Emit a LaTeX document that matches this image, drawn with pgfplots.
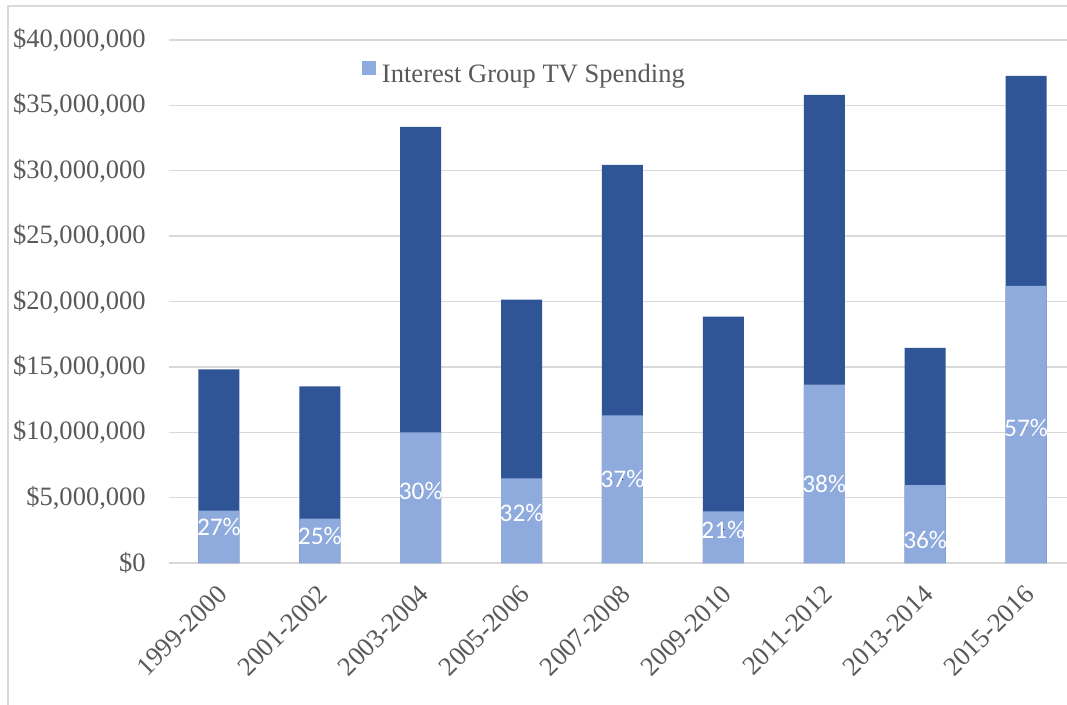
\documentclass[border=0pt]{standalone}
\usepackage{fontspec}
\setmainfont{Liberation Serif}
\newfontfamily\calibri{Carlito}
\usepackage{pgfplots}
\pgfplotsset{compat=1.18}
\definecolor{darkbar}{HTML}{2F5597}
\definecolor{lightbar}{HTML}{8FAADC}
\definecolor{txtgray}{HTML}{595959}
\definecolor{gridgray}{HTML}{D9D9D9}
\newlength{\px}\setlength{\px}{0.75pt}
\begin{document}
\begin{tikzpicture}
\useasboundingbox (0,0) rectangle (1067\px,704\px);
\clip (0,0) rectangle (1067\px,704\px);
\fill[white] (0,0) rectangle (1067\px,704\px);
\draw[gridgray, line width=1.5\px] (8\px,-2\px) -- (8\px,698\px) -- (1070\px,698\px);
\begin{axis}[
  at={(168.5\px,141\px)}, anchor=south west,
  scale only axis, width=908\px, height=523\px,
  xmin=-0.5, xmax=8.5, ymin=0, ymax=40,
  axis line style={draw=none},
  major tick length=0pt,
  ymajorgrids, grid style={gridgray, line width=1.5\px},
  ytick={0,5,...,40},
  yticklabels={{\$0},{\$5,000,000},{\$10,000,000},{\$15,000,000},{\$20,000,000},{\$25,000,000},{\$30,000,000},{\$35,000,000},{\$40,000,000}},
  xtick={0,...,8},
  xticklabels={1999-2000,2001-2002,2003-2004,2005-2006,2007-2008,2009-2010,2011-2012,2013-2014,2015-2016},
  tick label style={font=\fontsize{19.9}{24}\selectfont, text=txtgray},
  yticklabel style={anchor=east, inner sep=0pt, xshift=-22.5\px},
  xticklabel style={xshift=-3\px, yshift=-20\px, rotate=45, anchor=north east, inner sep=0pt},
  legend style={at={(0.2131,0.9143)}, anchor=south west, draw=none, fill=none,
    inner sep=0pt, outer sep=0pt, nodes={inner sep=0pt, text=txtgray},
    font=\fontsize{19.9}{24}\selectfont},
  legend image code/.code={\fill[lightbar] (0,0) rectangle (14\px,13.3\px);\path (0,0) -- (20\px,0);},
]
% total spending (dark segment top)
\addplot[ybar, bar width=41\px, bar shift=0pt, fill=darkbar, draw=none, forget plot]
  coordinates {(0,14.8) (1,13.5) (2,33.35) (3,20.15) (4,30.45) (5,18.85) (6,35.8) (7,16.45) (8,37.25)};
% interest group TV spending
\addplot[ybar, bar width=41\px, bar shift=0pt, fill=lightbar, draw=none]
  coordinates {(0,4.0) (1,3.4) (2,10.0) (3,6.47) (4,11.3) (5,3.95) (6,13.65) (7,5.95) (8,21.2)};
\addlegendentry{Interest Group TV Spending}
% percentage labels
\addplot[only marks, mark=*, mark size=0.1pt, mark options={draw=none, fill=none}, forget plot,
  nodes near coords, point meta=explicit symbolic,
  every node near coord/.append style={anchor=center, inner sep=0pt, text=white, font=\calibri\fontsize{19}{22}\selectfont}]
  coordinates {(0,2.79)[27\%] (1,2.06)[25\%] (2,5.5)[30\%] (3,3.82)[32\%] (4,6.39)[37\%] (5,2.56)[21\%] (6,6.07)[38\%] (7,1.73)[36\%] (8,10.34)[57\%]};
\end{axis}
\end{tikzpicture}
\end{document}
